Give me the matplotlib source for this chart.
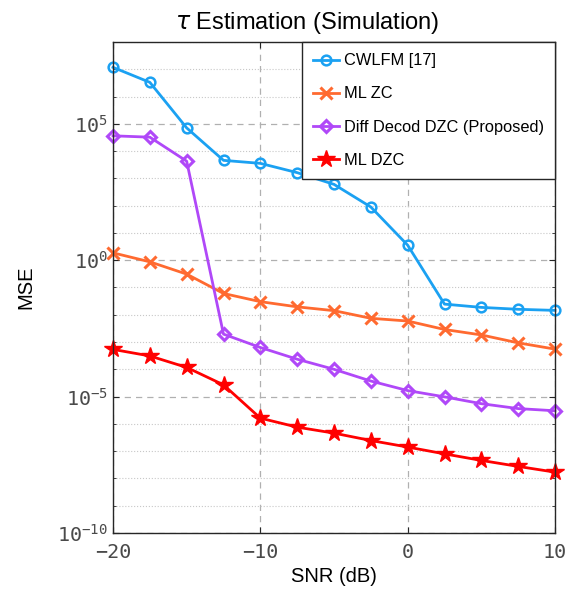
import matplotlib
matplotlib.use("Agg")
import matplotlib.pyplot as plt
import numpy as np
from matplotlib.ticker import FixedLocator, NullFormatter

# SNR sweep (dB) and log10(MSE).
SNR_DB = [-20, -17.5, -15, -12.5, -10, -7.5, -5, -2.5, 0, 2.5, 5, 7.5, 10]
CWLFM_LOG = [7.07, 6.52, 4.85, 3.66, 3.55, 3.21, 2.78, 1.95, 0.55, -1.61, -1.73, -1.80, -1.84]
ML_ZC_LOG = [0.27, -0.06, -0.51, -1.22, -1.52, -1.71, -1.85, -2.13, -2.23, -2.54, -2.74, -3.03, -3.26]
DIFF_DZC_LOG = [4.56, 4.51, 3.63, -2.71, -3.20, -3.63, -4.00, -4.43, -4.78, -5.01, -5.26, -5.44, -5.52]
ML_DZC_LOG = [-3.27, -3.51, -3.93, -4.57, -5.79, -6.12, -6.34, -6.61, -6.85, -7.10, -7.34, -7.56, -7.77]

LABELS = ["CWLFM [17]", "ML ZC", "Diff Decod DZC (Proposed)", "ML DZC"]
COLORS = ["#1ba1f2", "#ff6a30", "#b048f8", "#ff0000"]

plt.rcParams["font.family"] = ["Liberation Sans", "DejaVu Sans"]

fig = plt.figure(figsize=(5.69, 5.92), dpi=100)
ax = fig.add_axes([0.1986, 0.0997, 0.7768, 0.8294])

series = [CWLFM_LOG, ML_ZC_LOG, DIFF_DZC_LOG, ML_DZC_LOG]
styles = [
    dict(marker="o", markersize=7, markerfacecolor="none", markeredgewidth=1.8),
    dict(marker="x", markersize=8, markeredgewidth=2.2),
    dict(marker="D", markersize=6, markerfacecolor="none", markeredgewidth=2.2),
    dict(marker="*", markersize=13, markeredgewidth=1.0),
]
x = np.array(SNR_DB)
for values, label, color, style in zip(series, LABELS, COLORS, styles):
    ax.semilogy(x, 10.0 ** np.array(values), color=color, linewidth=2.0,
                label=label, clip_on=False, **style)

ax.set_xlim(-20, 10)
ax.set_ylim(1e-10, 1e8)
ax.set_xticks([-20, -10, 0, 10])
ax.yaxis.set_major_locator(FixedLocator([1e-10, 1e-5, 1e0, 1e5]))
ax.yaxis.set_minor_locator(FixedLocator([10.0 ** k for k in range(-10, 9)]))
ax.yaxis.set_minor_formatter(NullFormatter())

ax.grid(True, which="major", color="#b0b0b0", linestyle=(0, (5, 4)), linewidth=0.9)
ax.grid(True, which="minor", axis="y", color="#c8c8c8", linestyle=":", linewidth=0.8)
ax.set_axisbelow(True)

ax.tick_params(which="both", direction="in", top=True, right=True,
               colors="#262626", labelsize=14.5, length=4)
ax.tick_params(which="minor", length=2.5)
ax.tick_params(axis="x", pad=7)
for lbl in ax.get_xticklabels() + ax.get_yticklabels():
    lbl.set_fontfamily("DejaVu Sans Mono")
    lbl.set_color("#4a4a4a")
for spine in ax.spines.values():
    spine.set_color("#262626")
    spine.set_linewidth(1.0)

ax.set_title(r"$\tau$ Estimation (Simulation)", fontsize=17, pad=9, x=0.44)
ax.set_xlabel("SNR (dB)", fontsize=14.5, labelpad=4)
ax.set_ylabel("MSE", fontsize=14.5, labelpad=16)

leg = ax.legend(loc="upper right", bbox_to_anchor=(1.0, 1.0), borderaxespad=0.0,
                fontsize=11.8, fancybox=False, framealpha=1.0, edgecolor="#262626",
                handlelength=1.6, handletextpad=0.25, labelspacing=1.1,
                borderpad=0.7)
leg.get_frame().set_linewidth(1.0)

fig.savefig("out.png", dpi=100)
